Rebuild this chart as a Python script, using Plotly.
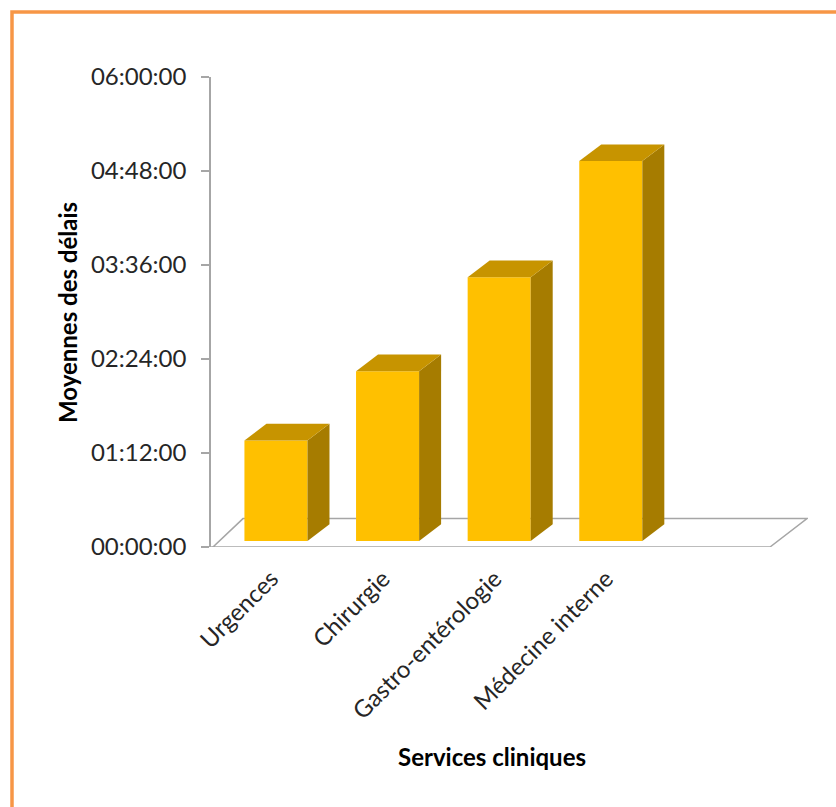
import plotly.graph_objects as go

# ---- data ----
categories = ["Urgences", "Chirurgie", "Gastro-entérologie", "Médecine interne"]
mean_delays = ["01:17:00", "02:10:00", "03:22:00", "04:51:00"]
tick_hours = [0, 1.2, 2.4, 3.6, 4.8, 6.0]
tick_labels = ["00:00:00", "01:12:00", "02:24:00", "03:36:00", "04:48:00", "06:00:00"]


def to_hours(s):
    h, m, sec = (int(p) for p in s.split(":"))
    return h + m / 60 + sec / 3600


values = [to_hours(v) for v in mean_delays]
xs = list(range(len(categories)))

# ---- geometry (pixels -> data units) ----
W, H = 836, 807
ML, MR, MT, MB = 211, 28, 77, 260
PW, PH = W - ML - MR, H - MT - MB
X0, X1 = -0.582, 4.767
Y0, Y1 = 0, 6
px_x = (X1 - X0) / PW
px_y = (Y1 - Y0) / PH

BAR_W = 0.565
BASE = 6 * px_y            # front face sits slightly behind the floor edge
DX = 22 * px_x             # bar depth (x)
DY = 16.7 * px_y           # bar depth (y)

FRONT = "#FFC000"
SIDE = "#A67C00"
TOP = "#C79400"

fig = go.Figure()

fig.add_trace(go.Bar(
    x=xs, y=values, base=BASE, width=BAR_W,
    marker=dict(color=FRONT, line=dict(width=0)),
    hoverinfo="skip", showlegend=False,
))

for x, v in zip(xs, values):
    xl, xr = x - BAR_W / 2, x + BAR_W / 2
    yb, yt = BASE, BASE + v
    # side face
    fig.add_trace(go.Scatter(
        x=[xr, xr + DX, xr + DX, xr, xr],
        y=[yb, yb + DY, yt + DY, yt, yb],
        fill="toself", fillcolor=SIDE, mode="lines",
        line=dict(width=0, color=SIDE), hoverinfo="skip", showlegend=False,
    ))
    # top face
    fig.add_trace(go.Scatter(
        x=[xl, xr, xr + DX, xl + DX, xl],
        y=[yt, yt, yt + DY, yt + DY, yt],
        fill="toself", fillcolor=TOP, mode="lines",
        line=dict(width=0, color=TOP), hoverinfo="skip", showlegend=False,
    ))

# floor (3D base plane)
fl_front_l = X0 + 2 * px_x
fl_front_r = X0 + (770 - ML) * px_x
fl_back_l = X0 + (243 - ML) * px_x
fl_back_r = X0 + (807 - ML) * px_x
fl_back_y = 28.4 * px_y
floor_path = (f"M {fl_front_l},0 L {fl_front_r},0 L {fl_back_r},{fl_back_y} "
              f"L {fl_back_l},{fl_back_y} Z")
fig.add_shape(type="path", path=floor_path, xref="x", yref="y",
              line=dict(color="#A6A6A6", width=1.5), fillcolor="white",
              layer="below")
# extension of the zero line to the left (tick at origin)
fig.add_shape(type="line", xref="x", yref="y", x0=X0 - 8 * px_x, x1=fl_front_l,
              y0=0, y1=0, line=dict(color="#A6A6A6", width=1.5), layer="below")

# orange outer border
fig.add_shape(type="rect", xref="paper", yref="paper",
              x0=(12 - ML) / PW, x1=(845 - ML) / PW,
              y0=(H - MB - 820) / PH, y1=(H - MB - 12) / PH,
              line=dict(color="#F79646", width=3.5), fillcolor="rgba(0,0,0,0)")

FONT = "Lato"
fig.add_annotation(text="<b>Moyennes des délais</b>", textangle=-90,
                   xref="paper", yref="paper", xanchor="center", yanchor="middle",
                   x=(67 - ML) / PW, y=(H - MB - 313) / PH,
                   showarrow=False, font=dict(family=FONT, size=24, color="#000000"))
fig.add_annotation(text="<b>Services cliniques</b>",
                   xref="paper", yref="paper", xanchor="center", yanchor="middle",
                   x=(492 - ML) / PW, y=(H - MB - 757) / PH,
                   showarrow=False, font=dict(family=FONT, size=24, color="#000000"))

fig.update_layout(
    width=W, height=H,
    margin=dict(l=ML, r=MR, t=MT, b=MB),
    paper_bgcolor="white", plot_bgcolor="white",
    showlegend=False,
    font=dict(family=FONT, size=24, color="#262626"),
    xaxis=dict(
        range=[X0, X1], tickmode="array",
        tickvals=[x - 0.04 for x in xs], ticktext=categories,
        tickangle=-45, showgrid=False, zeroline=False, showline=False,
        ticks="", ticklabelstandoff=12, fixedrange=True,
    ),
    yaxis=dict(
        range=[Y0, Y1], tickmode="array", tickvals=tick_hours, ticktext=tick_labels,
        showgrid=False, zeroline=False, showline=True, linecolor="#A6A6A6",
        linewidth=1.5, ticks="outside", ticklen=8, tickcolor="#A6A6A6",
        tickwidth=1.5, ticklabelstandoff=10, fixedrange=True,
    ),
)

fig.write_html("out.html")
